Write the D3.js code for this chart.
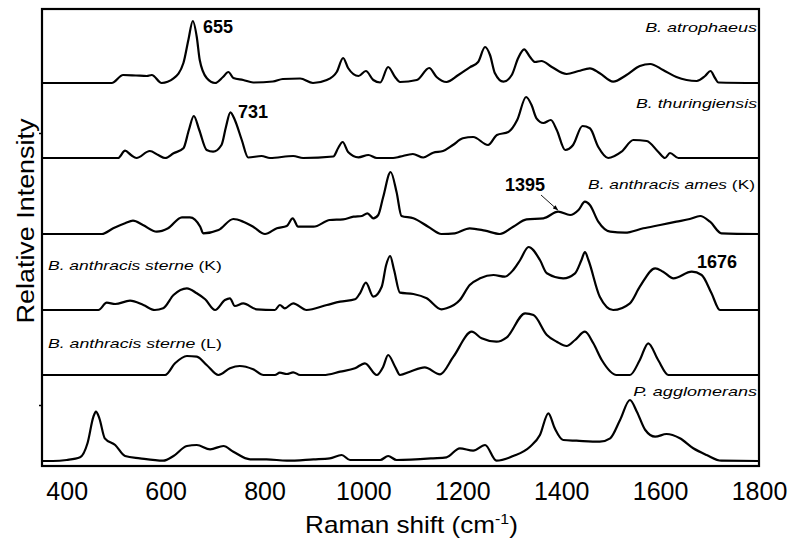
<!DOCTYPE html>
<html><head><meta charset="utf-8">
<script src="https://cdn.jsdelivr.net/npm/d3@7"></script>
<style>
body{margin:0;background:#fff;}
svg{display:block;}
text{font-family:"Liberation Sans",Arial,sans-serif;fill:#000;}
</style></head>
<body>
<svg id="chart" width="794" height="538"></svg>
<script>
// ---- data (wavenumber cm-1, relative intensity) ----
const xTicks = [400, 600, 800, 1000, 1200, 1400, 1600, 1800];
const seriesNames = ["B. atrophaeus", "B. thuringiensis", "B. anthracis ames", "B. anthracis sterne", "B. anthracis sterne", "P. agglomerans"];
const seriesSuffix = ["", "", "(K)", "(K)", "(L)", ""];
const seriesOffsets = [383, 308, 232, 156, 91, 5];

const atrophaeus = [[350,0],[491,0],[514,8],[540,7.5],[562,7],[572,8],[592,0],[616,4.6],[636,20],[646,43],[655,62],[663,46],[669,23],[683,5],[700,0],[716,6],[727,11],[737,5],[757,3],[777,0.5],[817,1.5],[837,4],[872,4.5],[898,0],[926,3],[946,11],[959,25],[969,15],[990,7],[1005,12],[1020,3],[1034,0.5],[1050,16],[1064,6],[1074,1],[1108,3],[1133,15],[1148,6],[1168,1],[1192,8],[1215,15.7],[1232,21],[1246,36],[1256,28],[1266,9.7],[1283,1.3],[1300,8],[1313,25],[1325,33.7],[1337,26],[1347,21],[1360,22],[1381,16],[1411,9],[1435,12],[1458,14.7],[1478,9.7],[1505,1.3],[1532,8],[1559,17],[1580,19],[1606,13],[1633,6],[1674,2],[1691,7],[1702,12],[1711,5],[1718,0.5],[1800,0]];
const thuringiensis = [[350,0],[504,0],[518,7.3],[530,3],[541,0],[568,7],[585,3],[599,0],[616,4.7],[636,9.7],[647,28],[657,42],[668,28],[683,8],[696,6.3],[713,13],[722,31],[731,45.7],[740,38],[754,18],[767,0.5],[794,2],[811,0],[858,2],[878,0],[939,1.5],[949,10],[958,16],[969,6],[990,0.7],[1010,3],[1027,0],[1060,0],[1074,1.3],[1100,4],[1121,0.5],[1141,5.3],[1161,7],[1181,13],[1201,19.7],[1222,21],[1252,13],[1270,23],[1293,26],[1311,38],[1329,61],[1340,53],[1350,39.7],[1364,35],[1379,38],[1391,28],[1408,8],[1424,13],[1443,32],[1458,29.7],[1475,11],[1495,0],[1522,6.3],[1546,18],[1573,17],[1596,6.3],[1610,0],[1620,5],[1637,0],[1800,0]];
const amesK = [[350,0],[471,0],[494,5.7],[518,10.7],[534,13.3],[554,9],[582,2.3],[605,5.7],[633,16.7],[649,16.7],[670,7.3],[676,0.7],[707,4],[737,15],[757,12.3],[777,7.3],[801,0],[825,5.7],[845,8],[857,15.7],[868,7.3],[899,7.3],[932,14],[959,14.7],[980,17.3],[997,18],[1008,20.7],[1020,15.7],[1030,19],[1040,37],[1055,62],[1067,42],[1077,18],[1101,15.7],[1131,7.3],[1158,0],[1185,0.7],[1215,5.7],[1246,3.3],[1276,0],[1303,7.3],[1330,14.7],[1364,15.7],[1394,22.3],[1418,19],[1435,24],[1448,32.3],[1458,29],[1475,12.3],[1499,2.3],[1529,1.3],[1566,5.7],[1600,9],[1633,12.3],[1660,15],[1681,18],[1701,12.3],[1724,0.7],[1800,0]];
const sterneK = [[350,0],[464,0],[481,7.3],[498,6],[528,9.3],[555,5],[578,0],[595,1.7],[616,15],[643,21.7],[663,16.7],[680,10.7],[700,0],[720,10],[730,11.7],[740,4],[757,6.7],[784,0.7],[821,0],[831,5],[841,1.7],[858,6.7],[885,0],[926,5],[953,8.3],[983,10.7],[993,16.7],[1005,27.3],[1020,13.3],[1037,23.3],[1046,45],[1054,54],[1062,40],[1074,17.3],[1101,16],[1128,11.7],[1158,0.7],[1168,1.7],[1195,10],[1215,25],[1236,31.7],[1263,35],[1286,33.3],[1303,40],[1317,50],[1334,63],[1357,50],[1371,36.7],[1404,31.7],[1428,36.7],[1441,50],[1448,58],[1455,50],[1478,13.3],[1505,0],[1539,6.7],[1559,23.3],[1590,41.7],[1606,38.3],[1627,31.7],[1664,38.3],[1684,35],[1704,16.7],[1721,0],[1800,0]];
const sterneL = [[350,0],[599,0],[619,11.7],[643,19],[663,18.3],[683,10],[707,0],[730,6.7],[750,9],[777,5.7],[798,0],[821,0],[831,2.3],[845,1],[858,2.7],[872,0],[919,0],[953,3.3],[983,6.7],[1003,11.7],[1027,0],[1040,8.3],[1050,20],[1064,8.3],[1074,0],[1094,3.3],[1124,7.7],[1155,0.7],[1182,18.3],[1219,43.3],[1239,36.7],[1269,33.3],[1290,37.7],[1327,61.7],[1344,60],[1371,40],[1391,33.3],[1411,29],[1428,35],[1448,43.3],[1465,31.7],[1482,15],[1512,0],[1539,0],[1559,15],[1576,31.7],[1596,15],[1617,0],[1800,0]];
const agglomerans = [[350,0],[372,0],[400,1],[427,3.7],[442,17.7],[454,44.3],[459,49.3],[466,42.7],[477,22.7],[498,16],[518,5],[548,2.7],[595,0.3],[616,5],[643,15],[663,16],[690,11.7],[717,15],[737,9.3],[771,1.7],[804,1.7],[845,0.3],[899,1.7],[932,2.7],[956,6],[973,1],[1034,1],[1050,5],[1067,1],[1141,2.7],[1168,3.7],[1195,12.7],[1222,10.3],[1246,16],[1269,0.3],[1303,5],[1337,14.3],[1357,26],[1374,47.7],[1387,32.7],[1404,21],[1431,20.3],[1478,19.3],[1499,22.7],[1519,41],[1539,61],[1553,49.3],[1570,31],[1590,24.3],[1613,27],[1640,22.7],[1667,12.7],[1694,6],[1724,0.3],[1800,0]];
const spectra = [atrophaeus, thuringiensis, amesK, sterneK, sterneL, agglomerans];

// peak annotations
const peakLabels = ["655", "731", "1395", "1676"];
const peakWaves = [655, 731, 1395, 1676];

// ---- layout ----
const svg = d3.select("#chart");
const L = 42, R = 759, T = 9, B = 466;
const x = d3.scaleLinear().domain([350, 1800]).range([L, R]);
const y = d3.scaleLinear().domain([0, 457]).range([B, T]);

const line = off => d3.line()
  .x(d => x(d[0]))
  .y(d => y(d[1] + off))
  .curve(d3.curveMonotoneX);

svg.append("g").selectAll("path").data(spectra).join("path")
  .attr("d", (d, i) => line(seriesOffsets[i])(d))
  .attr("fill", "none").attr("stroke", "#000").attr("stroke-width", 2.2)
  .attr("stroke-linejoin", "round");

// frame
svg.append("rect").attr("x", L).attr("y", T).attr("width", R - L).attr("height", B - T)
  .attr("fill", "none").attr("stroke", "#000").attr("stroke-width", 2.2);

// small left-axis ticks
const leftTickVals = [333, 61];
svg.append("g").attr("transform", `translate(${L},0)`)
  .call(d3.axisLeft(y).tickValues(leftTickVals).tickSize(3).tickFormat(""))
  .call(g => g.select(".domain").remove())
  .selectAll("line").attr("stroke", "#000").attr("stroke-width", 1.5);

// x axis
const ax = svg.append("g").attr("transform", `translate(0,${B})`)
  .call(d3.axisBottom(x).tickValues(xTicks).tickSize(0).tickPadding(16).tickFormat(d3.format("d")));
ax.select(".domain").remove();
ax.selectAll("text").attr("font-size", 25).attr("font-family", "Liberation Sans, Arial, sans-serif").attr("fill", "#000");

// helper: fit text group to a width by horizontal scaling
function fitted(parent, tx, ty, target, anchor, rot, build) {
  const g = parent.append("g");
  const t = g.append("text").attr("text-anchor", anchor);
  build(t);
  const w = t.node().getComputedTextLength();
  const s = target / w;
  g.attr("transform", `translate(${tx},${ty})${rot ? ` rotate(${rot})` : ""} scale(${s},1)`);
  return g;
}

// axis titles
fitted(svg, 411.5, 533, 213, "middle", 0, t => {
  t.attr("font-size", 23);
  t.append("tspan").text("Raman shift (cm");
  t.append("tspan").attr("font-size", 14).attr("dy", -9).text("-1");
  t.append("tspan").attr("dy", 9).text(")");
});
fitted(svg, 34, 221, 205, "middle", -90, t => {
  t.attr("font-size", 23).text("Relative Intensity");
});

// species labels
const labelPos = [[757, 32, 112, "end"], [757, 108, 121, "end"], [755, 189, 167, "end"], [48, 270, 174, "start"], [48, 348, 174, "start"], [757, 396, 124, "end"]];
seriesNames.forEach((n, i) => {
  const p = labelPos[i];
  fitted(svg, p[0], p[1], p[2], p[3], 0, t => {
    t.attr("font-size", 12.5);
    t.append("tspan").attr("font-style", "italic").text(n);
    if (seriesSuffix[i]) t.append("tspan").text(" " + seriesSuffix[i]);
  });
});

// peak labels
const peakPos = [[203, 33], [238, 118], [505, 191], [697, 268]];
peakLabels.forEach((p, i) => {
  svg.append("text").attr("x", peakPos[i][0]).attr("y", peakPos[i][1])
    .attr("font-size", 18).attr("font-weight", "bold").text(p);
});

// arrow for 1395
svg.append("defs").append("marker").attr("id", "ah").attr("viewBox", "0 0 10 10")
  .attr("refX", 9).attr("refY", 5).attr("markerWidth", 6).attr("markerHeight", 6).attr("orient", "auto")
  .append("path").attr("d", "M0,1L10,5L0,9Z").attr("fill", "#000");
svg.append("line").attr("x1", 541).attr("y1", 195).attr("x2", x(peakWaves[2]) - 1).attr("y2", 210)
  .attr("stroke", "#000").attr("stroke-width", 0.9).attr("marker-end", "url(#ah)");
</script>
</body></html>
